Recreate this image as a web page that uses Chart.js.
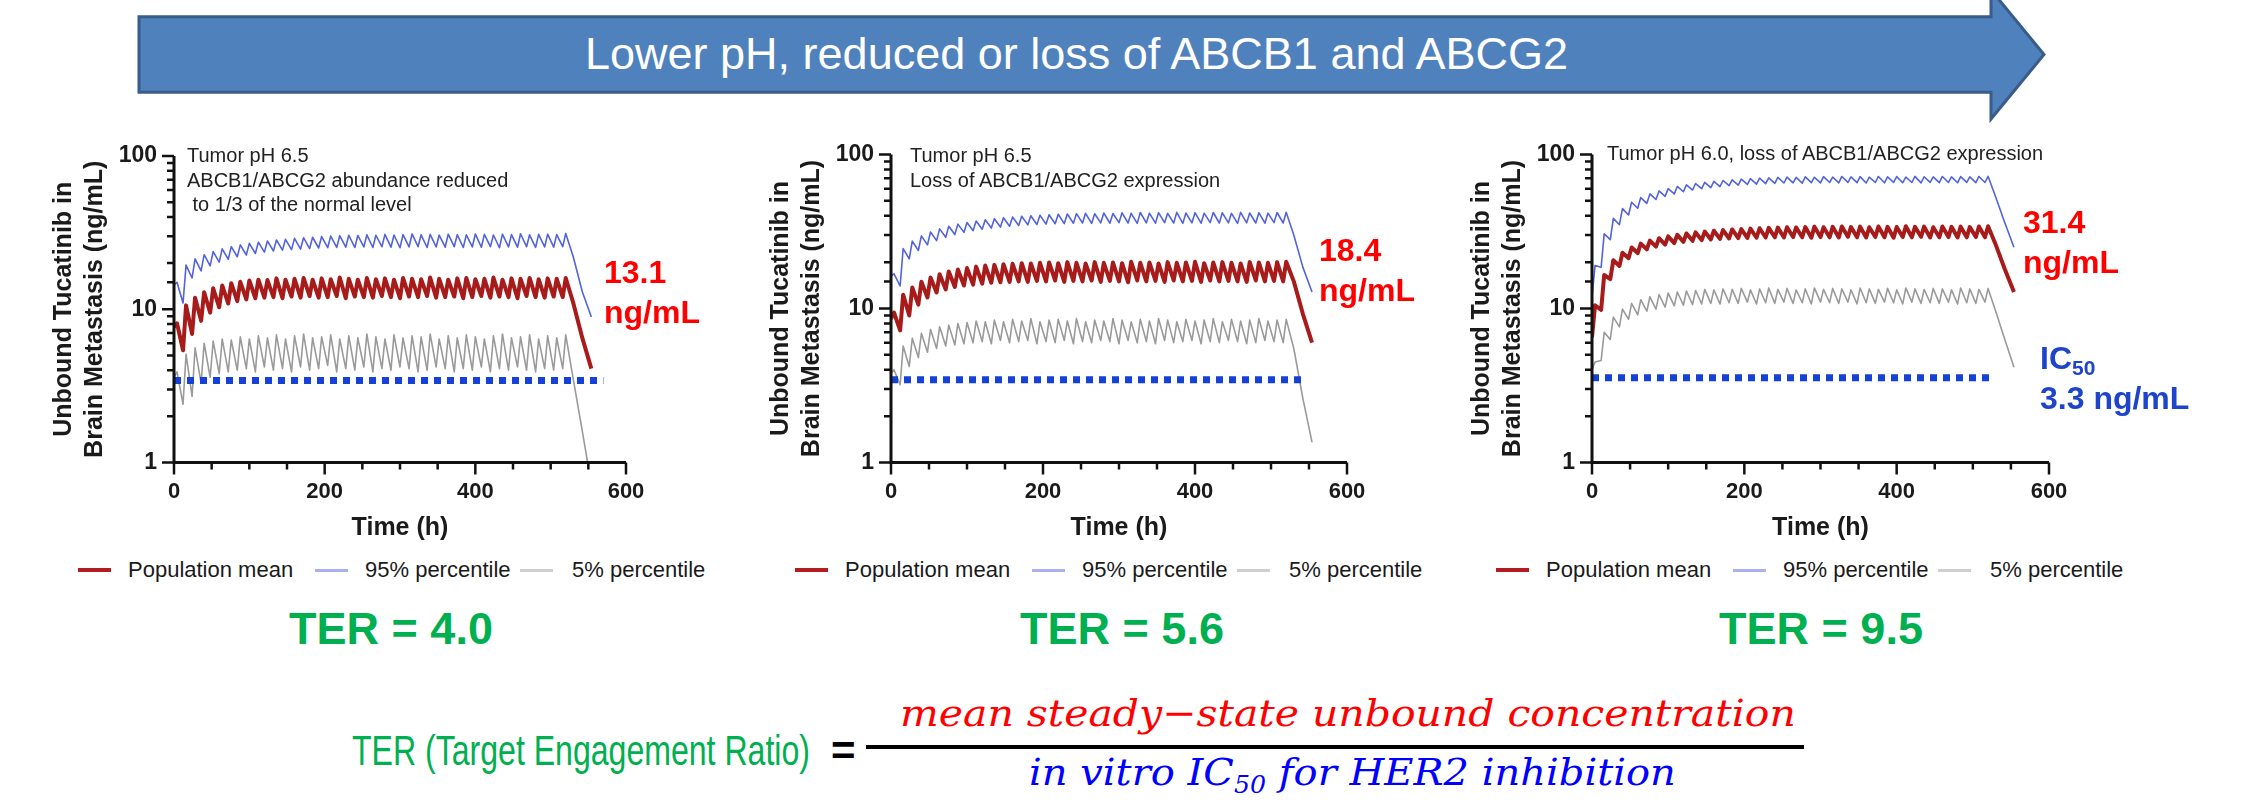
<!DOCTYPE html>
<html lang="en">
<head>
<meta charset="utf-8">
<title>Unbound tucatinib in brain metastasis</title>
<script src="https://cdn.jsdelivr.net/npm/chart.js@4.4.1/dist/chart.umd.min.js"></script>
<style>
  html, body { margin:0; padding:0; background:#fff; }
  body { width:2254px; height:808px; position:relative; overflow:hidden; font-family:"Liberation Sans", Arial, Helvetica, sans-serif; }
  canvas { position:absolute; }
  .t { position:absolute; white-space:pre; line-height:1; }
  .ann { position:absolute; white-space:pre; font-size:20px; line-height:24.5px; color:#222; }
  .val { position:absolute; white-space:pre; font-size:32px; font-weight:bold; color:#ff0000; line-height:40px; }
  .ic { position:absolute; white-space:pre; font-size:32px; font-weight:bold; color:#1f44cc; line-height:40px; }
  .ic sub { font-size:21px; vertical-align:-0.3em; line-height:0; }
  .ter { position:absolute; white-space:pre; font-size:45px; font-weight:bold; color:#00b050; line-height:1; transform:translateX(-50%); }
  .leg { position:absolute; font-size:22px; color:#1a1a1a; line-height:22px; white-space:pre; }
  .sw { position:absolute; }
  .math { font-family:"DejaVu Serif", "Liberation Serif", serif; font-style:italic; font-size:38px; }
  .math sub { font-size:24px; vertical-align:-0.35em; line-height:0; }
</style>
</head>
<body>
<svg width="2254" height="808" style="position:absolute;left:0;top:0">
  <polygon points="139,16.7 1991,16.7 1991,-10 2044,54.5 1991,119 1991,92.3 139,92.3" fill="#4f81bd" stroke="#385d8a" stroke-width="3" stroke-linejoin="miter"/>
</svg>
<div class="t" style="left:585px; top:31px; font-size:45px; color:#ffffff;">Lower pH, reduced or loss of ABCB1 and ABCG2</div>

<canvas id="c1"></canvas>
<canvas id="c2"></canvas>
<canvas id="c3"></canvas>

<div class="ann" style="left:187px; top:143px;">Tumor pH 6.5
ABCB1/ABCG2 abundance reduced
 to 1/3 of the normal level</div>
<div class="ann" style="left:910px; top:143px;">Tumor pH 6.5
Loss of ABCB1/ABCG2 expression</div>
<div class="ann" style="left:1607px; top:141px;">Tumor pH 6.0, loss of ABCB1/ABCG2 expression</div>

<div class="val" style="left:604px; top:252px;">13.1
ng/mL</div>
<div class="val" style="left:1319px; top:230px;">18.4
ng/mL</div>
<div class="val" style="left:2023px; top:202px;">31.4
ng/mL</div>
<div class="ic" style="left:2040px; top:338px;">IC<sub>50</sub></div>
<div class="ic" style="left:2040px; top:378px;">3.3 ng/mL</div>

<div id="legends"></div>

<div class="ter" style="left:391px; top:606px;">TER = 4.0</div>
<div class="ter" style="left:1122px; top:606px;">TER = 5.6</div>
<div class="ter" style="left:1821px; top:606px;">TER = 9.5</div>

<div class="t fit" data-w="458" style="left:352px; top:729.5px; font-size:42px; color:#00b050;">TER (Target Engagement Ratio)</div>
<div class="t" style="left:831px; top:729.5px; font-size:42px; font-weight:bold; color:#000;">=</div>
<div style="position:absolute; left:866px; top:745px; width:938px; height:4px; background:#000;"></div>
<div class="t fit math" data-w="896" style="left:900px; top:694px; color:#ff0000;">mean steady−state unbound concentration</div>
<div class="t fit math" data-w="647" style="left:1029px; top:753px; color:#0000ff;">in vitro IC<sub>50</sub> for HER2 inhibition</div>

<script>
// ---------------- time grid (h) ----------------
const startHour = 0;
const peakHours = [4,16,28,40,52,64,76,88,100,112,124,136,148,160,172,184,196,208,220,232,244,256,268,280,292,304,316,328,340,352,364,376,388,400,412,424,436,448,460,472,484,496,508,520];
const troughHours = [12,24,36,48,60,72,84,96,108,120,132,144,156,168,180,192,204,216,228,240,252,264,276,288,300,312,324,336,348,360,372,384,396,408,420,432,444,456,468,480,492,504,516];
const tailHours = [530, 542, 554];

// ---------------- Panel 1: pH 6.5, ABCB1/ABCG2 reduced to 1/3 ----------------
const p1MeanStart = 7.7;
const p1MeanPeaks = [8.1,10.6,11.9,12.9,13.7,14.3,14.8,15.1,15.4,15.6,15.5,15.9,15.6,15.8,16.0,15.6,15.9,15.7,16.1,15.8,15.6,16.0,15.7,15.9,15.6,16.0,15.8,15.7,16.1,15.8,15.6,15.9,16.0,15.7,15.8,16.1,15.6,15.9,15.8,16.0,15.7,15.9,15.8,16.0];
const p1MeanTroughs = [5.4,6.9,8.4,9.5,10.3,10.9,11.3,11.6,11.8,11.9,12.0,11.8,12.1,11.9,12.2,11.9,12.0,12.2,11.8,12.1,12.0,11.9,12.2,12.0,11.8,12.1,12.0,12.2,11.9,12.0,12.1,11.8,12.0,12.2,11.9,12.1,12.0,11.8,12.2,12.0,11.9,12.1,12.0];
const p1MeanTail = [11.0, 6.5, 4.1];
const p1P95Start = 14.4;
const p1P95Peaks = [15.0,19.4,21.3,22.7,23.8,24.8,25.6,26.3,26.9,27.4,27.9,28.3,28.6,29.0,29.3,29.5,29.8,30.0,30.2,30.4,30.3,30.6,30.4,30.8,30.5,30.7,31.0,30.6,30.8,30.5,30.9,30.7,30.6,31.0,30.8,30.5,30.9,30.7,31.1,30.6,30.8,30.9,30.7,31.2];
const p1P95Troughs = [11.0,16.0,17.8,19.2,20.3,21.2,22.0,22.6,23.1,23.6,24.0,24.3,24.5,24.7,24.9,25.1,25.2,25.3,25.4,25.3,25.5,25.3,25.6,25.4,25.2,25.5,25.6,25.3,25.5,25.4,25.6,25.3,25.5,25.4,25.6,25.2,25.5,25.4,25.6,25.3,25.5,25.4,25.6];
const p1P95Tail = [22.0, 13.0, 8.9];
const p1P5Start = 3.6;
const p1P5Peaks = [3.9,5.1,5.6,6.0,6.2,6.4,6.3,6.6,6.4,6.7,6.5,6.8,6.4,6.7,6.9,6.5,6.6,6.8,6.4,6.7,6.5,6.9,6.6,6.4,6.8,6.5,6.7,6.6,6.9,6.4,6.7,6.5,6.8,6.6,6.4,6.7,6.9,6.5,6.6,6.8,6.4,6.7,6.5,6.8];
const p1P5Troughs = [2.4,2.7,3.3,3.6,3.8,3.9,4.0,4.1,3.9,4.2,4.0,4.1,3.9,4.2,4.0,4.1,4.3,3.9,4.1,4.0,4.2,3.9,4.1,4.0,4.2,4.1,3.9,4.0,4.2,4.1,3.9,4.1,4.0,4.2,3.9,4.1,4.0,4.2,4.0,3.9,4.1,4.0,4.1];
const p1P5Tail = [3.5, 1.6, 0.72];

// ---------------- Panel 2: pH 6.5, loss of ABCB1/ABCG2 ----------------
const p2MeanStart = 8.6;
const p2MeanPeaks = [9.4,12.3,13.7,14.9,15.9,16.7,17.4,17.9,18.3,18.7,19.0,19.2,19.4,19.5,19.7,19.6,19.8,19.9,19.7,20.0,19.8,19.6,20.0,19.8,19.9,19.7,20.1,19.8,19.9,19.6,20.0,19.8,19.9,20.1,19.7,19.9,20.0,19.8,19.6,20.0,19.9,19.8,20.0,20.1];
const p2MeanTroughs = [7.2,9.0,10.6,11.8,12.7,13.3,13.8,14.1,14.3,14.5,14.7,14.8,14.9,15.0,14.9,15.1,15.0,15.2,14.9,15.1,15.0,15.2,14.9,15.1,15.0,14.8,15.2,15.0,15.1,14.9,15.2,15.0,15.1,14.9,15.2,15.0,15.1,15.0,14.9,15.2,15.0,15.1,15.0];
const p2MeanTail = [15.0, 9.2, 6.0];
const p2P95Start = 16.3;
const p2P95Peaks = [16.8,24.5,27.4,29.6,31.4,32.9,34.2,35.3,36.2,37.0,37.7,38.3,38.8,39.3,39.7,40.0,40.3,40.6,40.9,41.1,41.3,41.5,41.2,41.7,41.4,41.8,41.5,42.0,41.6,41.9,41.5,42.1,41.7,41.9,41.6,42.0,41.8,41.5,42.1,41.7,41.9,41.6,42.0,42.2];
const p2P95Troughs = [14.0,21.0,23.8,25.9,27.6,29.0,30.2,31.2,32.0,32.7,33.3,33.8,34.2,34.6,34.9,35.1,35.3,35.5,35.6,35.8,35.9,35.7,36.0,35.8,36.1,35.9,35.7,36.0,35.8,36.1,35.9,35.7,36.0,35.8,36.1,35.9,36.0,35.7,36.0,35.9,35.8,36.1,35.9];
const p2P95Tail = [30.0, 18.5, 12.8];
const p2P5Start = 3.8;
const p2P5Peaks = [4.0,5.7,6.4,6.9,7.3,7.6,7.8,8.0,8.1,8.3,8.2,8.4,8.2,8.5,8.3,8.6,8.2,8.4,8.5,8.3,8.6,8.2,8.4,8.3,8.6,8.4,8.2,8.5,8.3,8.6,8.4,8.2,8.5,8.3,8.4,8.6,8.2,8.5,8.3,8.4,8.6,8.3,8.4,8.5];
const p2P5Troughs = [3.2,4.2,4.8,5.2,5.5,5.7,5.8,5.9,6.0,6.1,5.9,6.2,6.0,6.1,6.2,5.9,6.1,6.0,6.2,5.9,6.1,6.0,6.2,6.1,5.9,6.2,6.0,6.1,5.9,6.2,6.0,6.1,6.2,5.9,6.1,6.0,6.2,6.1,5.9,6.0,6.2,6.1,6.0];
const p2P5Tail = [5.5, 2.6, 1.35];

// ---------------- Panel 3: pH 6.0, loss of ABCB1/ABCG2 ----------------
const p3MeanStart = 6.5;
const p3MeanPeaks = [10.5,16.5,20.6,23.0,24.9,26.4,27.6,28.6,29.4,30.1,30.7,31.2,31.6,32.0,32.3,32.6,32.8,33.0,33.2,33.4,33.5,33.7,33.6,33.8,34.0,33.7,33.9,34.1,33.8,34.0,33.7,34.1,33.9,33.8,34.2,33.9,34.0,33.7,34.1,33.9,34.0,33.8,34.1,34.2];
const p3MeanTroughs = [9.8,15.5,18.9,21.2,22.9,24.2,25.2,26.0,26.6,27.1,27.5,27.8,28.1,28.3,28.5,28.6,28.7,28.8,28.9,29.0,28.9,29.1,29.0,28.8,29.1,29.0,28.9,29.2,29.0,28.9,29.1,29.0,28.8,29.1,29.0,29.2,28.9,29.0,29.1,28.9,29.0,29.1,29.0];
const p3MeanTail = [26.0, 18.0, 12.8];
const p3P95Start = 11.9;
const p3P95Peaks = [19.0,30.5,38.5,44.5,49.0,52.5,55.5,58.0,60.0,62.0,63.5,64.8,66.0,67.0,67.8,68.5,69.2,69.7,70.2,70.6,71.0,71.3,71.0,71.6,71.2,71.8,71.4,72.0,71.5,71.8,71.3,72.0,71.6,71.9,71.4,72.1,71.7,71.5,72.0,71.6,71.9,71.5,72.0,72.2];
const p3P95Troughs = [18.5,28.0,35.0,40.5,44.8,48.2,51.0,53.5,55.5,57.3,58.8,60.0,61.0,61.9,62.7,63.3,63.9,64.3,64.7,65.0,65.3,65.5,65.2,65.7,65.4,65.8,65.5,65.9,65.6,65.3,65.8,65.5,65.9,65.6,65.8,65.4,65.9,65.6,65.8,65.5,65.9,65.6,65.8];
const p3P95Tail = [53.0, 36.0, 25.0];
const p3P5Start = 4.0;
const p3P5Peaks = [4.5,7.0,8.8,9.9,10.8,11.4,11.9,12.3,12.6,12.8,13.0,13.1,13.3,13.2,13.4,13.3,13.5,13.2,13.4,13.6,13.3,13.5,13.2,13.4,13.6,13.3,13.5,13.4,13.2,13.6,13.4,13.3,13.5,13.2,13.6,13.4,13.3,13.5,13.4,13.2,13.6,13.4,13.3,13.5];
const p3P5Troughs = [4.6,6.3,7.6,8.5,9.1,9.6,9.9,10.2,10.4,10.5,10.6,10.7,10.8,10.7,10.9,10.8,11.0,10.7,10.9,10.8,11.0,10.8,10.9,10.7,11.0,10.9,10.8,11.0,10.7,10.9,10.8,11.0,10.9,10.7,11.0,10.8,10.9,10.8,11.0,10.7,10.9,10.8,11.0];
const p3P5Tail = [9.6, 6.3, 4.15];

// IC50 reference line (as drawn) and its end time per panel
const ic50Levels = [3.43, 3.44, 3.55];
const ic50EndHours = [570, 541, 524];

// axis ticks
const xRange = [0, 600];
const xMinorStep = 50;
const xLabelStep = 200;
const yRange = [1, 100];
const seriesLabels = ['Population mean', '95% percentile', '5% percentile'];

// ---------------- helpers ----------------
function buildSeries(start, peaks, troughs, tail) {
  const pts = [{ x: startHour, y: start }];
  for (let k = 0; k < peaks.length; k++) {
    pts.push({ x: peakHours[k], y: peaks[k] });
    if (k < troughs.length) pts.push({ x: troughHours[k], y: troughs[k] });
  }
  tail.forEach((v, i) => pts.push({ x: tailHours[i], y: v }));
  return pts;
}
const isDecade = v => Math.abs(Math.log10(v) - Math.round(Math.log10(v))) < 1e-9;

const styles = {
  ic50: { color: '#1541d6', width: 7 },
  mean: { color: '#a81b1b', width: 4, legend: '#b01c20', legendW: 4 },
  p95:  { color: '#5263dc', width: 1.6, legend: '#aab0ef', legendW: 3 },
  p5:   { color: '#9a9a9a', width: 1.6, legend: '#cfcfcf', legendW: 3 }
};

const prismAxes = {
  id: 'prismAxes',
  afterDraw(chart) {
    const { ctx, chartArea: a, scales: { x, y } } = chart;
    ctx.save();
    ctx.strokeStyle = '#111';
    ctx.lineWidth = 3;
    ctx.beginPath();
    ctx.moveTo(a.left, a.top);
    ctx.lineTo(a.left, a.bottom + 1.5);
    ctx.moveTo(a.left - 1.5, a.bottom);
    ctx.lineTo(a.right, a.bottom);
    ctx.stroke();
    ctx.lineWidth = 2.5;
    ctx.beginPath();
    y.ticks.forEach(t => {
      const py = y.getPixelForValue(t.value);
      const len = isDecade(t.value) ? 12 : 7;
      ctx.moveTo(a.left, py); ctx.lineTo(a.left - len, py);
    });
    x.ticks.forEach(t => {
      const px = x.getPixelForValue(t.value);
      const len = (t.value % xLabelStep === 0) ? 12 : 7;
      ctx.moveTo(px, a.bottom); ctx.lineTo(px, a.bottom + len);
    });
    ctx.stroke();
    ctx.restore();
  }
};

// layout of each panel on the page (px)
const panelLayout = [
  { id: 'c1', plotLeft: 174, plotWidth: 452, plotTop: 156 },
  { id: 'c2', plotLeft: 891, plotWidth: 456, plotTop: 154.5 },
  { id: 'c3', plotLeft: 1592, plotWidth: 457, plotTop: 154.5 }
];
const canvasTop = 120, canvasBottom = 545, plotBottom = 462.5;
const yBoxWidth = 125, padLeft = 49, padRight = 40;

const panelData = [
  { mean: buildSeries(p1MeanStart, p1MeanPeaks, p1MeanTroughs, p1MeanTail),
    p95: buildSeries(p1P95Start, p1P95Peaks, p1P95Troughs, p1P95Tail),
    p5: buildSeries(p1P5Start, p1P5Peaks, p1P5Troughs, p1P5Tail) },
  { mean: buildSeries(p2MeanStart, p2MeanPeaks, p2MeanTroughs, p2MeanTail),
    p95: buildSeries(p2P95Start, p2P95Peaks, p2P95Troughs, p2P95Tail),
    p5: buildSeries(p2P5Start, p2P5Peaks, p2P5Troughs, p2P5Tail) },
  { mean: buildSeries(p3MeanStart, p3MeanPeaks, p3MeanTroughs, p3MeanTail),
    p95: buildSeries(p3P95Start, p3P95Peaks, p3P95Troughs, p3P95Tail),
    p5: buildSeries(p3P5Start, p3P5Peaks, p3P5Troughs, p3P5Tail) }
];

Chart.defaults.font.family = '"Liberation Sans", Arial, Helvetica, sans-serif';
Chart.defaults.color = '#1a1a1a';

const charts = [];
panelLayout.forEach((L, i) => {
  const cv = document.getElementById(L.id);
  const canvasLeft = L.plotLeft - padLeft - yBoxWidth;
  const w = padLeft + yBoxWidth + L.plotWidth + padRight;
  const h = canvasBottom - canvasTop;
  cv.width = w; cv.height = h;
  cv.style.left = canvasLeft + 'px'; cv.style.top = canvasTop + 'px';
  cv.style.width = w + 'px'; cv.style.height = h + 'px';
  const padTop = L.plotTop - canvasTop;
  const xBoxHeight = canvasBottom - plotBottom;
  const D = panelData[i];
  const lvl = ic50Levels[i];
  const line = (label, data, st, extra) => Object.assign({
    label, data, borderColor: st.color, backgroundColor: st.color, borderWidth: st.width,
    pointRadius: 0, pointHoverRadius: 0, tension: 0, fill: false,
    borderJoinStyle: 'round', legendColor: st.legend, legendWidth: st.legendW
  }, extra || {});
  const chart = new Chart(cv, {
    type: 'line',
    data: {
      datasets: [
        line('IC50', [{ x: 0, y: lvl }, { x: ic50EndHours[i], y: lvl }], styles.ic50,
             { borderDash: [7, 6], borderCapStyle: 'butt', borderJoinStyle: 'miter', hideInLegend: true }),
        line(seriesLabels[0], D.mean, styles.mean),
        line(seriesLabels[1], D.p95, styles.p95),
        line(seriesLabels[2], D.p5, styles.p5)
      ]
    },
    options: {
      responsive: false, animation: false, devicePixelRatio: 1,
      events: [],
      layout: { padding: { left: padLeft, top: padTop, right: padRight, bottom: 0 } },
      plugins: { legend: { display: false }, tooltip: { enabled: false } },
      scales: {
        x: {
          type: 'linear', min: xRange[0], max: xRange[1],
          grid: { display: false, drawTicks: false, tickLength: 0 },
          border: { display: false },
          ticks: {
            stepSize: xMinorStep, maxTicksLimit: 50, autoSkip: false, maxRotation: 0, padding: 16,
            color: '#1a1a1a', font: { size: 22, weight: 'bold' },
            callback: v => (v % xLabelStep === 0 ? String(v) : '')
          },
          title: { display: true, text: 'Time (h)', color: '#1a1a1a',
                   font: { size: 25, weight: 'bold', lineHeight: 1.2 }, padding: { top: 0, bottom: 1.5 } },
          afterFit: s => { s.height = xBoxHeight; }
        },
        y: {
          type: 'logarithmic', min: yRange[0], max: yRange[1],
          grid: { display: false, drawTicks: false, tickLength: 0 },
          border: { display: false },
          ticks: {
            autoSkip: false, padding: 17, color: '#1a1a1a', font: { size: 23, weight: 'bold' },
            callback: v => (isDecade(v) ? String(Math.round(v)) : '')
          },
          title: { display: true, text: ['Unbound Tucatinib in', 'Brain Metastasis (ng/mL)'], color: '#1a1a1a',
                   font: { size: 25, weight: 'bold', lineHeight: 1.24 }, padding: { top: 0, bottom: 0 } },
          afterFit: s => { s.width = yBoxWidth; }
        }
      }
    },
    plugins: [prismAxes]
  });
  charts.push(chart);

  // HTML legend built from the chart's own datasets
  const swLeft = [-96, 141, 346], txtLeft = [-46, 191, 398];
  const host = document.getElementById('legends');
  chart.data.datasets.filter(d => !d.hideInLegend).forEach((d, j) => {
    const sw = document.createElement('div');
    sw.className = 'sw';
    sw.style.left = (L.plotLeft + swLeft[j]) + 'px';
    sw.style.width = '33px';
    sw.style.height = d.legendWidth + 'px';
    sw.style.top = (570 - d.legendWidth / 2) + 'px';
    sw.style.background = d.legendColor;
    host.appendChild(sw);
    const tx = document.createElement('div');
    tx.className = 'leg';
    tx.style.left = (L.plotLeft + txtLeft[j]) + 'px';
    tx.style.top = '559px';
    tx.textContent = d.label;
    host.appendChild(tx);
  });
});

function fitTexts() {
  document.querySelectorAll('.fit').forEach(el => {
    const w = el.offsetWidth;
    const target = parseFloat(el.dataset.w);
    if (w > 0) {
      el.style.transformOrigin = '0 0';
      el.style.transform = 'scaleX(' + (target / w) + ')';
    }
  });
}
fitTexts();
if (document.fonts && document.fonts.ready) document.fonts.ready.then(fitTexts);
</script>
</body>
</html>
